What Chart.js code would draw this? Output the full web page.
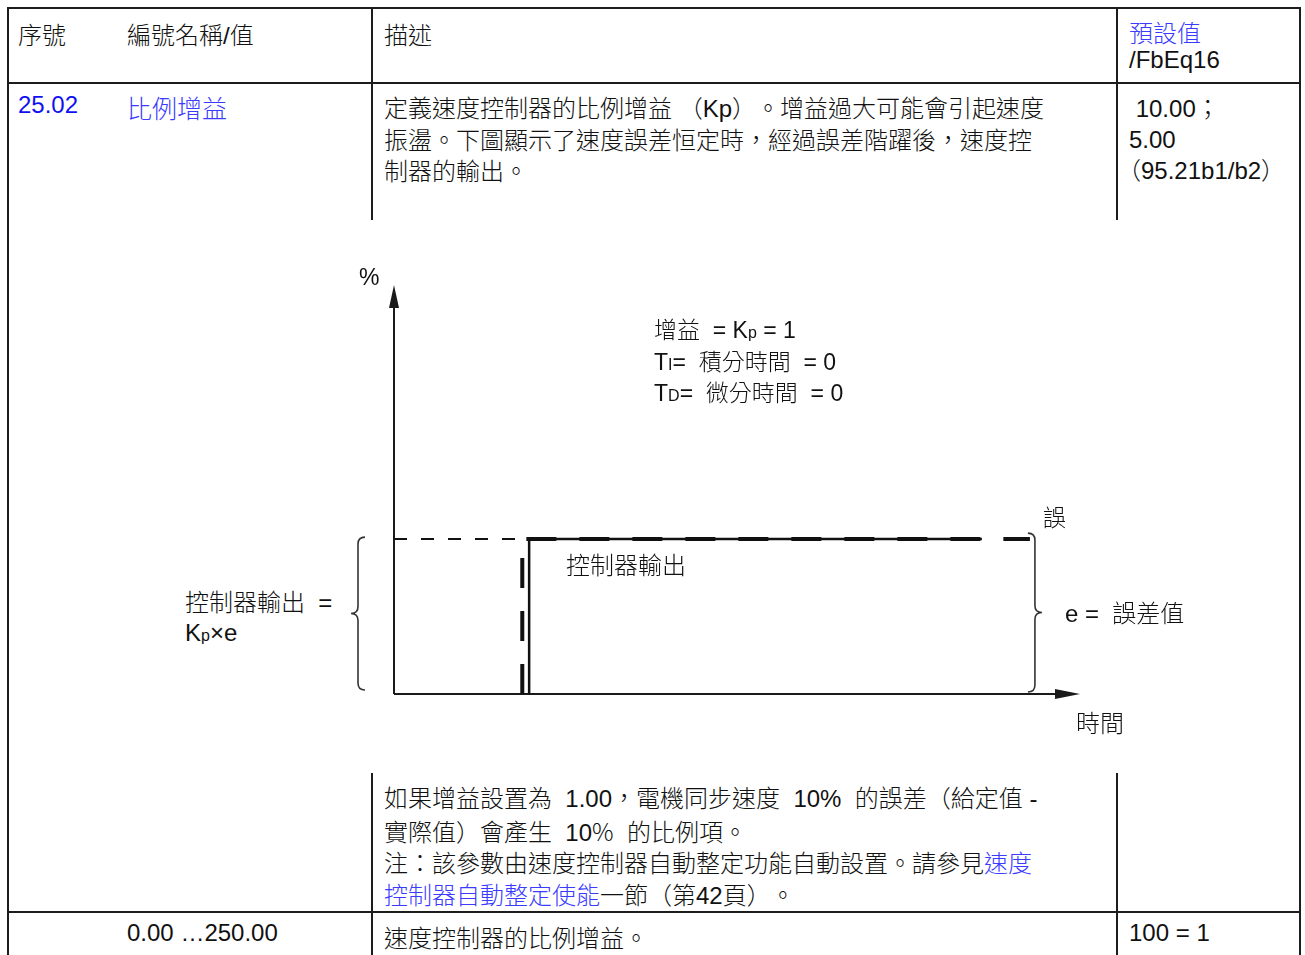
<!DOCTYPE html>
<html lang="zh-Hant">
<head>
<meta charset="utf-8">
<title>25.02 比例增益</title>
<script src="https://cdn.jsdelivr.net/npm/chart.js@4.4.1/dist/chart.umd.min.js"></script>
<style>
  html, body { margin: 0; padding: 0; background: #fff; }
  body {
    position: relative; width: 1305px; height: 955px; overflow: hidden;
    font-family: "Liberation Sans", Arial, "Noto Sans CJK TC", sans-serif;
    font-size: 24px; color: #111; font-weight: 300;
    text-spacing-trim: space-all;
  }
  .t { position: absolute; white-space: nowrap; line-height: 31.5px; }
  .ln { position: absolute; background: #1c1c1c; }
  .blue { color: #1010f0; }
  .lblue { color: #3b3bff; }
  .sm { font-size: 16px; }
  .cjk { font-family: "Noto Sans CJK TC", sans-serif; }
  #diagram { position: absolute; left: 340px; top: 250px; }
  .lbl { position: absolute; white-space: nowrap; line-height: 30px; font-size: 23px; }
</style>
</head>
<body>

<!-- table rules -->
<div class="ln" style="left:7px;top:7px;width:1294px;height:2px"></div>
<div class="ln" style="left:7px;top:7px;width:2px;height:948px"></div>
<div class="ln" style="left:1299px;top:7px;width:2px;height:948px"></div>
<div class="ln" style="left:7px;top:82px;width:1294px;height:2px"></div>
<div class="ln" style="left:371px;top:8px;width:2px;height:212px"></div>
<div class="ln" style="left:1116px;top:8px;width:2px;height:212px"></div>
<div class="ln" style="left:371px;top:773px;width:2px;height:182px"></div>
<div class="ln" style="left:1116px;top:773px;width:2px;height:182px"></div>
<div class="ln" style="left:7px;top:911px;width:1294px;height:2px"></div>

<!-- header -->
<div class="t" style="left:18px;top:20px">序號</div>
<div class="t" style="left:127px;top:20px">編號名稱/值</div>
<div class="t" style="left:384px;top:20px">描述</div>
<div class="t lblue" style="left:1129px;top:18px">預設值</div>
<div class="t" style="left:1129px;top:44px">/FbEq16</div>

<!-- row 25.02 -->
<div class="t blue" style="left:18px;top:89px">25.02</div>
<div class="t lblue" style="left:127px;top:94px;font-size:25px">比例增益</div>
<div class="t" style="left:384px;top:93px">定義速度控制器的比例增益 （Kp）。增益過大可能會引起速度<br>振盪。下圖顯示了速度誤差恒定時，經過誤差階躍後，速度控<br>制器的輸出。</div>
<div class="t" style="left:1129px;top:93px;line-height:31px">&nbsp;10.00；<br>5.00<br><span style="margin-left:-12px">（95.21b1/b2）</span></div>

<div class="t" style="left:384px;top:783px">如果增益設置為 &nbsp;1.00，電機同步速度 &nbsp;10% &nbsp;的誤差（給定值 -<br>實際值）會產生 &nbsp;10<span class="cjk">%</span> &nbsp;的比例項。<br>注：該參數由速度控制器自動整定功能自動設置。請參見<span class="lblue">速度</span><br><span class="lblue">控制器自動整定使能</span>一節（第42頁）。</div>

<!-- last row -->
<div class="t" style="left:127px;top:917px">0.00 …250.00</div>
<div class="t" style="left:384px;top:923px">速度控制器的比例增益。</div>
<div class="t" style="left:1129px;top:917px">100 = 1</div>

<!-- diagram -->
<canvas id="diagram" width="800" height="500"></canvas>

<div class="lbl" style="left:359px;top:262px">%</div>
<div class="lbl" style="left:654px;top:315px">增益 &nbsp;= K<span class="sm">p</span> = 1</div>
<div class="lbl" style="left:654px;top:347px">T<span class="sm">I</span>= &nbsp;積分時間 &nbsp;= 0</div>
<div class="lbl" style="left:654px;top:378px">T<span class="sm">D</span>= &nbsp;微分時間 &nbsp;= 0</div>
<div class="lbl" style="left:1043px;top:503px">誤</div>
<div class="lbl" style="left:566px;top:551px;font-size:24px">控制器輸出</div>
<div class="lbl" style="left:185px;top:588px;font-size:24px">控制器輸出 &nbsp;=</div>
<div class="lbl" style="left:185px;top:618px;font-size:24px">K<span class="sm">p</span>×e</div>
<div class="lbl" style="left:1065px;top:599px;font-size:24px">e = &nbsp;誤差值</div>
<div class="lbl" style="left:1076px;top:709px;font-size:24px">時間</div>

<script>
// step response of a P controller, Kp = 1 (values in %, time in % of axis)
const X_MAX = 100;
const Y_MAX = 26.4;
const ERROR_LEVEL = 10;

const refTime = [0, 18.7];
const refValue = [10, 10];

const errorTime = [18.7, 18.7, 92.7];
const errorValue = [0, 10, 10];

const outputTime = [19.7, 19.7, 85.7];
const outputValue = [0, 10, 10];

(function () {
  'use strict';

  var INK = '#111';

  function toPoints(xs, ys) {
    return xs.map(function (x, i) { return { x: x, y: ys[i] }; });
  }

  function drawBrace(ctx, x, y1, y2, dir) {
    var w = 7;
    var ym = (y1 + y2) / 2;
    ctx.beginPath();
    ctx.moveTo(x - dir * w, y1);
    ctx.quadraticCurveTo(x, y1, x, y1 + w);
    ctx.lineTo(x, ym - w);
    ctx.quadraticCurveTo(x, ym, x + dir * w, ym);
    ctx.quadraticCurveTo(x, ym, x, ym + w);
    ctx.lineTo(x, y2 - w);
    ctx.quadraticCurveTo(x, y2, x - dir * w, y2);
    ctx.stroke();
  }

  var decor = {
    id: 'decor',
    beforeDatasetsDraw: function (chart) {
      var ctx = chart.ctx;
      var xs = chart.scales.x, ys = chart.scales.y;
      var x0 = xs.getPixelForValue(0), y0 = ys.getPixelForValue(0);
      var top = ys.getPixelForValue(Y_MAX), right = xs.getPixelForValue(X_MAX);
      var eY = ys.getPixelForValue(ERROR_LEVEL);

      ctx.save();
      ctx.strokeStyle = '#1a1a1a';
      ctx.fillStyle = '#1a1a1a';
      ctx.lineWidth = 2;

      ctx.beginPath();
      ctx.moveTo(x0, y0);
      ctx.lineTo(x0, top + 18);
      ctx.moveTo(x0, y0);
      ctx.lineTo(right - 18, y0);
      ctx.stroke();

      ctx.beginPath();
      ctx.moveTo(x0, top);
      ctx.lineTo(x0 - 5, top + 23);
      ctx.lineTo(x0 + 5, top + 23);
      ctx.closePath();
      ctx.fill();

      ctx.beginPath();
      ctx.moveTo(right, y0);
      ctx.lineTo(right - 25, y0 - 5);
      ctx.lineTo(right - 25, y0 + 5);
      ctx.closePath();
      ctx.fill();

      ctx.lineWidth = 1.6;
      ctx.strokeStyle = '#333';
      drawBrace(ctx, x0 - 36, eY - 2, y0 - 4, -1);
      drawBrace(ctx, xs.getPixelForValue(errorTime[errorTime.length - 1]) + 5, eY - 6, y0 - 2, 1);
      ctx.restore();
    }
  };

  function initChart() {
    var canvas = document.getElementById('diagram');
    if (!canvas) return;

    new Chart(canvas.getContext('2d'), {
      type: 'scatter',
      data: {
        datasets: [
          {
            label: '誤差 (之前)',
            data: toPoints(refTime, refValue),
            showLine: true,
            borderColor: INK,
            borderWidth: 2,
            borderDash: [13, 14],
            pointRadius: 0
          },
          {
            label: '控制器輸出',
            data: toPoints(outputTime, outputValue),
            showLine: true,
            borderColor: INK,
            borderWidth: 2.5,
            pointRadius: 0
          },
          {
            label: '誤差',
            data: toPoints(errorTime, errorValue),
            showLine: true,
            borderColor: INK,
            borderWidth: 4,
            borderDash: [30, 23],
            borderCapStyle: 'butt',
            pointRadius: 0
          }
        ]
      },
      options: {
        responsive: false,
        devicePixelRatio: 1,
        animation: false,
        clip: false,
        layout: { padding: { left: 54, top: 35, right: 60, bottom: 56 } },
        plugins: {
          legend: { display: false },
          tooltip: { enabled: false }
        },
        scales: {
          x: { type: 'linear', min: 0, max: X_MAX, display: false },
          y: { type: 'linear', min: 0, max: Y_MAX, display: false }
        }
      },
      plugins: [decor]
    });
  }

  if (document.readyState === 'loading') {
    document.addEventListener('DOMContentLoaded', initChart);
  } else {
    initChart();
  }
})();
</script>
</body>
</html>
